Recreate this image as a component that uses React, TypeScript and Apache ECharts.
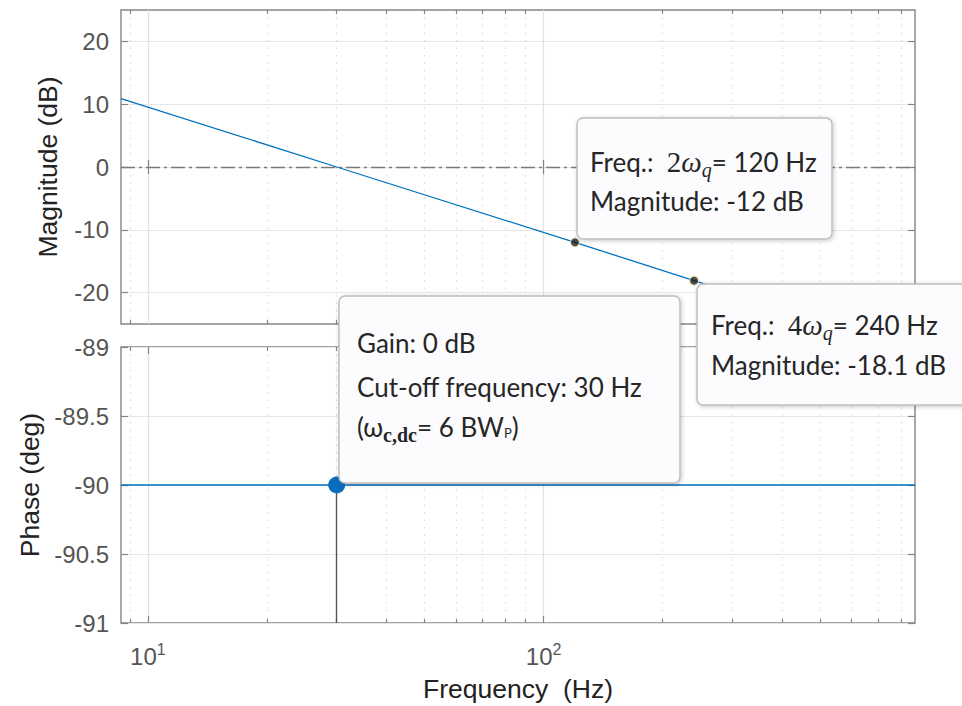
import React, { useEffect, useRef } from 'react';
import * as echarts from 'echarts';

// ---- data ----
const freqHz = [8.55, 30, 120, 240, 868];
const magDb = [10.9, 0, -12.0, -18.1, -29.2];
const phaseDeg = [-90, -90, -90, -90, -90];
const tipFreqHz = [120, 240];
const tipMagDb = [-12.0, -18.1];
const cutoffFreqHz = [30];
const cutoffPhaseDeg = [-90];
const magTicks = [-20, -10, 0, 10, 20];
const phaseTicks = [-91, -90.5, -90, -89.5, -89];
const majorFreqTicks = [10, 100];
const minorFreqTicks = [9, 20, 30, 40, 50, 60, 70, 80, 90, 200, 300, 400, 500, 600, 700, 800];

const X_MIN = 8.55;
const X_MAX = 868;
const AX = '#858585';
const LABEL = '#555555';
const TITLE = '#222222';
const FONT = '"Liberation Sans", Arial, sans-serif';
const BOXFONT = 'Lato, "Open Sans", "Noto Sans", sans-serif';
const SERIF = '"Liberation Serif", "DejaVu Serif", serif';
const BLUE = '#0072BD';

function freqAxes(g: number, showLabels: boolean) {
  const base: any = {
    type: 'log',
    logBase: 10,
    min: X_MIN,
    max: X_MAX,
    gridIndex: g,
    axisLine: { show: false },
    axisLabel: { show: false },
    splitLine: { show: false },
  };
  const tickStyle = { color: AX, width: 1.2 };
  return [
    {
      ...base,
      position: 'bottom',
      axisTick: { show: true, inside: true, length: 7, customValues: majorFreqTicks, lineStyle: tickStyle },
      splitLine: { show: true, lineStyle: { color: '#e2e2e2', width: 1.2 } },
      axisLabel: showLabels
        ? {
            show: true,
            customValues: majorFreqTicks,
            margin: 18,
            formatter: (v: number) => `{b|10}{s|${Math.round(Math.log10(v))}}`,
            rich: {
              b: { fontSize: 24, color: LABEL, fontFamily: FONT },
              s: { fontSize: 16, color: LABEL, fontFamily: FONT, padding: [0, 0, 14, 0] },
            },
          }
        : { show: false },
      name: showLabels ? 'Frequency\u00a0\u00a0(Hz)' : '',
      nameLocation: 'middle',
      nameGap: 52,
      nameTextStyle: { fontSize: 26.5, color: TITLE, fontFamily: FONT },
    },
    {
      ...base,
      position: 'top',
      axisTick: { show: true, inside: true, length: 7, customValues: majorFreqTicks, lineStyle: tickStyle },
    },
    {
      ...base,
      position: 'bottom',
      axisTick: { show: true, inside: true, length: 4, customValues: minorFreqTicks, lineStyle: tickStyle },
      splitLine: { show: true, lineStyle: { color: '#d8d8d8', width: 1, type: [1.5, 6] } },
    },
    {
      ...base,
      position: 'top',
      axisTick: { show: true, inside: true, length: 4, customValues: minorFreqTicks, lineStyle: tickStyle },
    },
  ];
}

function valueAxes(g: number, min: number, max: number, ticks: number[], name: string, gap: number) {
  const tickStyle = { color: AX, width: 1.2 };
  return [
    {
      type: 'value',
      gridIndex: g,
      min,
      max,
      position: 'left',
      axisLine: { show: false },
      axisTick: { show: true, inside: true, length: 7, customValues: ticks, lineStyle: tickStyle },
      axisLabel: { show: true, customValues: ticks, fontSize: 24, color: LABEL, fontFamily: FONT, margin: 12 },
      splitLine: { show: true, lineStyle: { color: '#e6e6e6', width: 1.2 } },
      name,
      nameLocation: 'middle',
      nameGap: gap,
      nameTextStyle: { fontSize: 26.5, color: TITLE, fontFamily: FONT },
    },
    {
      type: 'value',
      gridIndex: g,
      min,
      max,
      position: 'right',
      axisLine: { show: false },
      axisTick: { show: true, inside: true, length: 7, customValues: ticks, lineStyle: tickStyle },
      axisLabel: { show: false },
      splitLine: { show: false },
    },
  ];
}

const TXT = '#262626';
const rich: any = {
  t: { fill: TXT, fontSize: 26, fontFamily: BOXFONT },
  m: { fill: TXT, fontSize: 29, fontFamily: SERIF },
  mi: { fill: TXT, fontSize: 29, fontFamily: SERIF, fontStyle: 'italic' },
  sub: { fill: TXT, fontSize: 20, fontFamily: SERIF, fontStyle: 'italic', padding: [15, 0, 0, 0] },
  bsub: { fill: TXT, fontSize: 20, fontFamily: SERIF, fontWeight: 'bold', padding: [15, 0, 0, 0] },
  psub: { fill: TXT, fontSize: 13, fontFamily: BOXFONT, padding: [12, 0, 0, 0] },
};

function box(x: number, y: number, w: number, h: number) {
  return {
    type: 'rect',
    z: 100,
    shape: { x, y, width: w, height: h, r: 6 },
    style: {
      fill: '#fcfcfe',
      stroke: '#bdbdbd',
      lineWidth: 1.4,
      shadowBlur: 4,
      shadowColor: 'rgba(0,0,0,0.22)',
      shadowOffsetX: 1,
      shadowOffsetY: 1,
    },
  };
}

function line(x: number, y: number, text: string) {
  return {
    type: 'text',
    z: 101,
    x,
    y,
    style: { text, rich, fill: TXT, fontSize: 26, fontFamily: BOXFONT, align: 'left', verticalAlign: 'middle' },
  };
}

const option: any = {
  animation: false,
  backgroundColor: '#ffffff',
  grid: [
    { left: 121, top: 10, width: 794, height: 314, show: true, borderColor: AX, borderWidth: 1.4, backgroundColor: '#fff' },
    { left: 121, top: 347, width: 794, height: 276, show: true, borderColor: AX, borderWidth: 1.4, backgroundColor: '#fff' },
  ],
  xAxis: [...freqAxes(0, false), ...freqAxes(1, true)],
  yAxis: [
    ...valueAxes(0, -25, 25, magTicks, 'Magnitude (dB)', 60),
    ...valueAxes(1, -91, -89, phaseTicks, 'Phase (deg)', 76),
  ],
  series: [
    {
      type: 'line',
      xAxisIndex: 0,
      yAxisIndex: 0,
      data: freqHz.map((f, i) => [f, magDb[i]]),
      symbol: 'none',
      lineStyle: { color: BLUE, width: 1.3 },
      clip: true,
      z: 3,
      markLine: {
        silent: true,
        symbol: ['none', 'none'],
        label: { show: false },
        lineStyle: { color: '#7a7a7a', width: 1.3, type: [14, 4, 3, 4] },
        data: [{ yAxis: 0 }],
      },
    },
    {
      type: 'scatter',
      xAxisIndex: 0,
      yAxisIndex: 0,
      data: tipFreqHz.map((f, i) => [f, tipMagDb[i]]),
      symbolSize: 9,
      itemStyle: { color: '#1a1a1a', borderColor: '#f4efc2', borderWidth: 1.2 },
      z: 6,
    },
    {
      type: 'line',
      xAxisIndex: 4,
      yAxisIndex: 2,
      data: freqHz.map((f, i) => [f, phaseDeg[i]]),
      symbol: 'none',
      lineStyle: { color: BLUE, width: 1.3 },
      z: 3,
      markLine: {
        silent: true,
        symbol: ['none', 'none'],
        label: { show: false },
        lineStyle: { color: '#555555', width: 1.4, type: 'solid' },
        data: [[{ coord: [cutoffFreqHz[0], cutoffPhaseDeg[0]] }, { coord: [cutoffFreqHz[0], -91] }]],
      },
    },
    {
      type: 'scatter',
      xAxisIndex: 4,
      yAxisIndex: 2,
      data: cutoffFreqHz.map((f, i) => [f, cutoffPhaseDeg[i]]),
      symbolSize: 17,
      itemStyle: { color: '#0a6cbf', opacity: 1 },
      z: 6,
    },
  ],
  graphic: [
    box(577, 118, 255, 121),
    line(590, 162, '{t|Freq.:\u00a0\u00a0}{m|2}{mi|ω}{sub|q}{t|= 120 Hz}'),
    line(590, 201, '{t|Magnitude: -12 dB}'),
    box(339, 296, 341, 187),
    line(357, 343, '{t|Gain: 0 dB}'),
    line(357, 387, '{t|Cut-off frequency: 30 Hz}'),
    line(357, 427, '{t|(ω}{bsub|c,dc}{t|= 6 BW}{psub|P}{t|)}'),
    box(697, 284, 275, 121),
    line(711, 325, '{t|Freq.:\u00a0\u00a0}{m|4}{mi|ω}{sub|q}{t|= 240 Hz}'),
    line(711, 365, '{t|Magnitude: -18.1 dB}'),
  ],
};

export default function App() {
  const ref = useRef<HTMLDivElement>(null);
  useEffect(() => {
    const chart = echarts.init(ref.current!, null, { renderer: 'svg' });
    chart.setOption(option);
    return () => chart.dispose();
  }, []);
  return (
    <div
      ref={ref}
      style={{ position: 'fixed', left: 0, top: 0, width: 962, height: 706, background: '#fff' }}
    />
  );
}
